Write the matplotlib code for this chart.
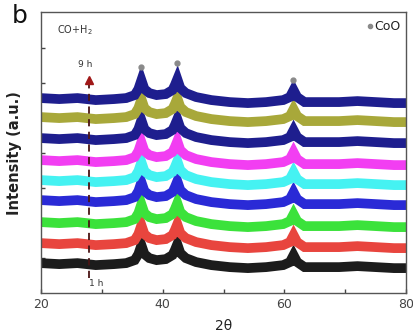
import matplotlib.pyplot as plt
import numpy as np
from matplotlib.ticker import MultipleLocator, NullFormatter

# 2-theta positions where each trace was read
two_theta = [20, 23, 26, 29, 32, 34, 35.4, 36.0, 36.5, 37.0, 37.8, 39.0, 40.5,
             41.6, 42.0, 42.4, 42.9, 43.8, 45.5, 48, 51, 54, 57, 59.8, 60.9,
             61.5, 62.1, 63.3, 66, 69, 72, 75, 78, 80]
# common pattern shape relative to each trace's baseline (a.u.)
pattern = [0, -1, 0, -2, -1, 0, 3, 9, 18, 9, 5, 3, 4,
           8, 13, 19, 10, 5, 1, -2, -4, -5, -4, -2, 1,
           8, 1, -4, -4, -4, -3, -4, -5, -5]
# baseline of each trace, 1 h (bottom) to 9 h (top)
offsets = [30, 50, 71, 93, 113, 133, 155, 176, 195]
colors = ["#1c1c1c", "#e8453e", "#3be23b", "#2a2ad6", "#45f2f2",
          "#f23ef2", "#1e1e8e", "#a8a83a", "#1e1e8e"]

coo_peaks = [36.4, 42.4, 61.4]
coo_marks = [226, 230, 213]

fig = plt.figure(figsize=(4.14, 3.35), dpi=100)
ax = fig.add_axes([0.099, 0.125, 0.882, 0.839])

prof = np.array(pattern)
for off, col in zip(offsets, colors):
    ax.plot(two_theta, prof + off, color=col, lw=7,
            solid_joinstyle="miter", solid_capstyle="butt")

ax.plot(coo_peaks, coo_marks, "o", color="#8a8a8a", ms=3.5, ls="none")

# time arrow
ax.plot([27.9, 27.9], [15, 208], ls=(0, (4, 3)), color="#4a1414", lw=1.3)
ax.plot([27.9], [213], marker="^", color="#a01818", ms=6)
ax.text(27.3, 229, "9 h", fontsize=6.5, ha="center", va="center", color="#333333")
ax.text(29.0, 10, "1 h", fontsize=6.5, ha="center", va="center", color="#333333")

ax.text(22.6, 263, "CO+H$_2$", fontsize=7, ha="left", va="center", color="#333333")
ax.plot([74.1], [267], "o", color="#8a8a8a", ms=3)
ax.text(74.8, 267, "CoO", fontsize=9, ha="left", va="center", color="#222222")

ax.set_xlim(20, 80)
ax.set_ylim(0, 281)
ax.xaxis.set_major_locator(MultipleLocator(20))
ax.xaxis.set_minor_locator(MultipleLocator(10))
ax.set_yticks(np.arange(35, 250, 35))
ax.yaxis.set_major_formatter(NullFormatter())
ax.tick_params(direction="in", length=3, width=1, colors="#444444",
               labelsize=9, labelcolor="#444444")
ax.tick_params(which="minor", direction="in", length=3, width=1, colors="#444444")
for sp in ax.spines.values():
    sp.set_color("#555555")
    sp.set_linewidth(1)

ax.set_xlabel("2θ", fontsize=10, color="#222222", labelpad=6)
ax.set_ylabel("Intensity (a.u.)", fontsize=10.5, fontweight="bold",
              color="#222222", labelpad=10)
fig.text(0.048, 0.952, "b", fontsize=18, ha="center", va="center", color="#111111")

fig.savefig("out.png", dpi=100)
